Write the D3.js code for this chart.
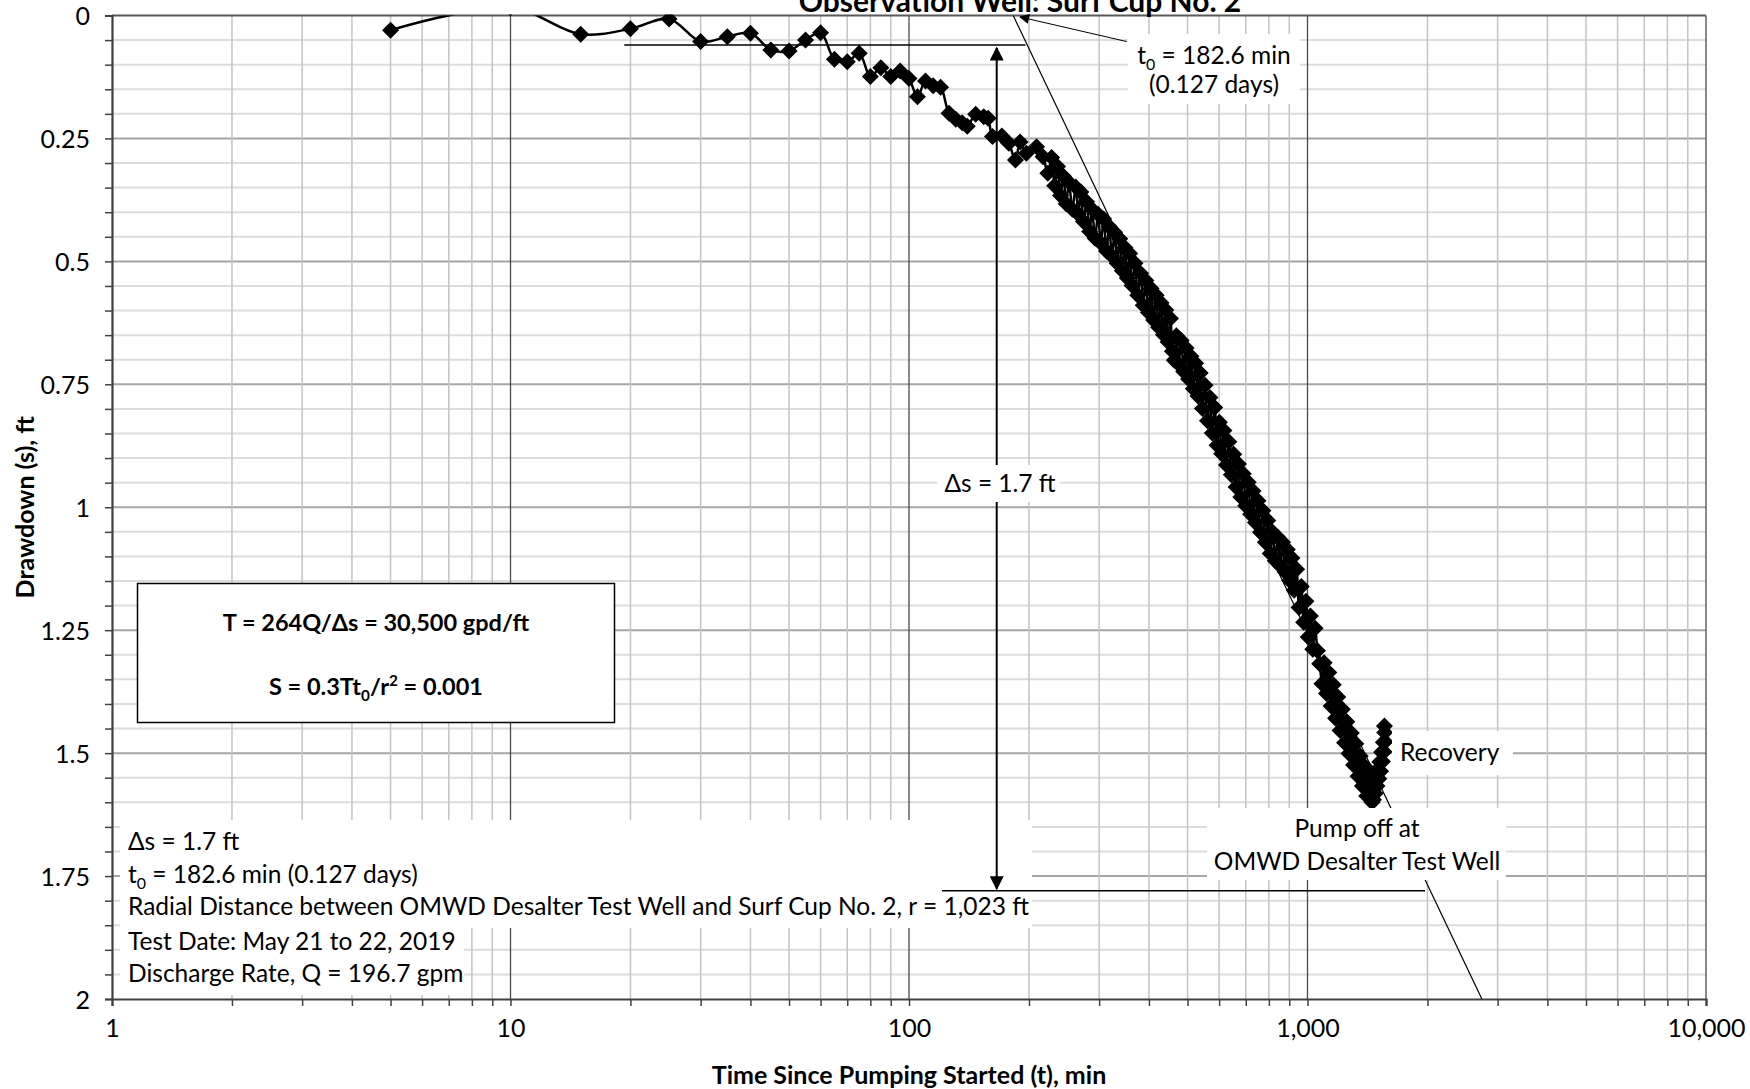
<!DOCTYPE html>
<html>
<head>
<meta charset="utf-8">
<script src="https://cdn.jsdelivr.net/npm/d3@7"></script>
<style>
  html, body { margin: 0; padding: 0; background: #fff; }
  svg { display: block; font-family: Lato, "Liberation Sans", sans-serif; }
</style>
</head>
<body>
<svg id="chart"></svg>
<script>
// observed drawdown, Surf Cup No. 2 (time since pumping started, min / drawdown, ft)
const timeMin = [
  5, 10, 15, 20, 25, 30, 35, 40, 45, 50, 55, 60, 65, 70, 75, 80, 85, 90, 95, 100,
  105, 110, 115, 120, 126, 131, 136, 140, 147, 154, 158, 162, 171, 178, 185, 190, 197, 209, 217, 223,
  228, 232, 236, 240, 244, 248, 252, 257, 262, 266, 270, 274, 279, 284, 288, 293, 298, 303, 308, 313,
  318, 323, 328, 333, 338, 343, 348, 353, 358, 363, 369, 375, 381, 387, 393, 399, 405, 411, 417, 423,
  429, 435, 441, 447, 453, 458, 463, 469, 475, 482, 489, 496, 503, 510, 517, 524, 531, 538, 545, 553,
  561, 569, 577, 585, 593, 601, 609, 617, 626, 635, 644, 653, 662, 671, 680, 690, 700, 710, 720, 730,
  740, 751, 762, 773, 784, 795, 806, 818, 830, 842, 854, 866, 878, 890, 902, 914, 926, 939, 952, 965,
  978, 991, 1004, 1017, 1031, 1045, 1059, 1073, 1087, 1101, 1116, 1131, 1146, 1161, 1176, 1191, 1207, 1223, 1239, 1255,
  1271, 1288, 1305, 1322, 1339, 1356, 1373, 1390, 1408, 1426, 1444,
  1452, 1458, 1464, 1470, 1478, 1486, 1494, 1502, 1510, 1518, 1526, 1534, 1542, 1550, 1556, 1562, 1566, 1560
];
const drawdownFt = [
  0.03, -0.016, 0.038, 0.027, 0.007, 0.053, 0.043, 0.036, 0.070, 0.072, 0.050, 0.035, 0.089, 0.094, 0.077, 0.124, 0.106, 0.124, 0.113, 0.128,
  0.165, 0.133, 0.143, 0.146, 0.199, 0.211, 0.218, 0.225, 0.201, 0.206, 0.209, 0.246, 0.245, 0.260, 0.294, 0.257, 0.280, 0.267, 0.287, 0.321,
  0.289, 0.346, 0.307, 0.366, 0.327, 0.383, 0.339, 0.394, 0.349, 0.404, 0.359, 0.419, 0.379, 0.439, 0.394, 0.453, 0.404, 0.463, 0.414, 0.479,
  0.429, 0.489, 0.441, 0.504, 0.454, 0.519, 0.472, 0.534, 0.484, 0.549, 0.504, 0.569, 0.524, 0.589, 0.539, 0.604, 0.555, 0.619, 0.569, 0.634,
  0.584, 0.649, 0.599, 0.664, 0.616, 0.683, 0.701, 0.651, 0.709, 0.661, 0.724, 0.676, 0.739, 0.693, 0.759, 0.707, 0.774, 0.727, 0.799, 0.752,
  0.824, 0.777, 0.849, 0.797, 0.874, 0.827, 0.891, 0.844, 0.914, 0.867, 0.934, 0.892, 0.959, 0.912, 0.979, 0.932, 0.997, 0.949, 1.014, 0.967,
  1.031, 0.987, 1.051, 1.007, 1.071, 1.027, 1.094, 1.051, 1.109, 1.061, 1.119, 1.071, 1.131, 1.086, 1.149, 1.103, 1.169, 1.126, 1.204, 1.161,
  1.234, 1.191, 1.264, 1.221, 1.289, 1.246, 1.292, 1.318, 1.359, 1.316, 1.379, 1.336, 1.404, 1.361, 1.429, 1.386, 1.454, 1.411, 1.479, 1.436,
  1.501, 1.459, 1.524, 1.481, 1.547, 1.506, 1.567, 1.526, 1.587, 1.546, 1.595,
  1.600, 1.578, 1.595, 1.563, 1.582, 1.548, 1.567, 1.533, 1.552, 1.518, 1.537, 1.498, 1.517, 1.478, 1.497, 1.458, 1.477, 1.445
];

// straight-line fit (Cooper-Jacob), 1.7 ft per log cycle through t0
const fitTime = [182.6, 2739];
const fitDrawdown = [0, 2];

// delta-s construction lines
const topLineTime = [19.3, 196];
const topLineDrawdown = 0.06;
const bottomLineTime = [121, 1972];
const bottomLineDrawdown = 1.78;
const deltaArrowTime = 166;
const t0ArrowTime = [352, 190];
const t0ArrowDrawdown = [0.053, 0.003];

const xMajorTicks = [1, 10, 100, 1000, 10000];
const xTickLabels = ['1', '10', '100', '1,000', '10,000'];
const yMajorTicks = [0, 0.25, 0.5, 0.75, 1, 1.25, 1.5, 1.75, 2];
const yTickLabels = ['0', '0.25', '0.5', '0.75', '1', '1.25', '1.5', '1.75', '2'];

const width = 1750, height = 1089;
const plot = { left: 112, right: 1706, top: 15.5, bottom: 999 };
const textSize = 24.5;

const svg = d3.select('#chart')
  .attr('width', width)
  .attr('height', height)
  .attr('viewBox', `0 0 ${width} ${height}`);

const x = d3.scaleLog().domain([1, 10000]).range([plot.left, plot.right]);
const y = d3.scaleLinear().domain([0, 2]).range([plot.top, plot.bottom]);

const defs = svg.append('defs');
defs.append('clipPath').attr('id', 'plotClip')
  .append('rect')
  .attr('x', plot.left).attr('y', plot.top)
  .attr('width', plot.right - plot.left).attr('height', plot.bottom - plot.top);
defs.append('clipPath').attr('id', 'markerClip')
  .append('rect')
  .attr('x', plot.left - 10).attr('y', plot.top - 1)
  .attr('width', plot.right - plot.left + 20).attr('height', plot.bottom - plot.top + 1);

defs.append('marker')
  .attr('id', 'arrowHead')
  .attr('viewBox', '0 0 10 10')
  .attr('refX', 9).attr('refY', 5)
  .attr('markerWidth', 7).attr('markerHeight', 7)
  .attr('markerUnits', 'strokeWidth')
  .attr('orient', 'auto-start-reverse')
  .append('path').attr('d', 'M0,0 L10,5 L0,10 Z').attr('fill', '#000');
defs.append('marker')
  .attr('id', 'smallHead')
  .attr('viewBox', '0 0 10 10')
  .attr('refX', 9).attr('refY', 5)
  .attr('markerWidth', 14).attr('markerHeight', 10)
  .attr('markerUnits', 'strokeWidth')
  .attr('orient', 'auto')
  .append('path').attr('d', 'M0,0 L10,5 L0,10 Z').attr('fill', '#000');

// gridlines
const minorX = [];
[1, 10, 100, 1000].forEach(d => { for (let k = 2; k <= 9; k++) minorX.push(d * k); });
const minorY = d3.range(0, 41).map(i => i * 0.05).filter(v => Math.abs(v / 0.25 - Math.round(v / 0.25)) > 1e-6);

const grid = svg.append('g');
grid.selectAll('.hminor').data(minorY).enter().append('line')
  .attr('x1', plot.left).attr('x2', plot.right)
  .attr('y1', d => y(d)).attr('y2', d => y(d))
  .attr('stroke', '#dcdcdc').attr('stroke-width', 2);
grid.selectAll('.hmajor').data(yMajorTicks.slice(1, -1)).enter().append('line')
  .attr('x1', plot.left).attr('x2', plot.right)
  .attr('y1', d => y(d)).attr('y2', d => y(d))
  .attr('stroke', '#a6a6a6').attr('stroke-width', 2);
grid.selectAll('.vminor').data(minorX).enter().append('line')
  .attr('x1', d => x(d)).attr('x2', d => x(d))
  .attr('y1', plot.top).attr('y2', plot.bottom)
  .attr('stroke', '#c4c4c4').attr('stroke-width', 1.5);
grid.selectAll('.vmajor').data(xMajorTicks.slice(1)).enter().append('line')
  .attr('x1', d => x(d)).attr('x2', d => x(d))
  .attr('y1', plot.top).attr('y2', plot.bottom)
  .attr('stroke', '#4a4a4a').attr('stroke-width', 1.3);
grid.append('line')
  .attr('x1', plot.left).attr('x2', plot.right)
  .attr('y1', y(0)).attr('y2', y(0))
  .attr('stroke', '#595959').attr('stroke-width', 2);

// axes
const yAxis = d3.axisLeft(y)
  .tickValues(d3.range(0, 41).map(i => i * 0.05))
  .tickSize(7)
  .tickFormat(d => {
    const i = yMajorTicks.findIndex(v => Math.abs(v - d) < 1e-6);
    return i >= 0 ? yTickLabels[i] : '';
  });
const gy = svg.append('g').attr('transform', `translate(${plot.left},0)`).call(yAxis);

const xAxis = d3.axisBottom(x)
  .tickValues(xMajorTicks.concat(minorX))
  .tickSize(7)
  .tickFormat(d => {
    const i = xMajorTicks.indexOf(d);
    return i >= 0 ? xTickLabels[i] : '';
  });
const gx = svg.append('g').attr('transform', `translate(0,${plot.bottom})`).call(xAxis);

[gx, gy].forEach(g => {
  g.select('.domain').attr('stroke', '#404040').attr('stroke-width', 2.2);
  g.selectAll('.tick line').attr('stroke', '#404040').attr('stroke-width', 1.5);
  g.selectAll('.tick text')
    .attr('fill', '#000')
    .style('font-family', 'Lato, "Liberation Sans", sans-serif')
    .style('font-size', '25px');
});
gy.selectAll('.tick text').attr('x', -22).attr('dy', '0.36em');
gx.selectAll('.tick text').attr('y', 20);

// info text block (background boxes sit behind the construction lines)
const info = svg.append('g');
info.append('rect').attr('x', 120).attr('y', 820).attr('width', 912).attr('height', 108).attr('fill', '#fff');
info.append('rect').attr('x', 120).attr('y', 928).attr('width', 344).attr('height', 67).attr('fill', '#fff');

function richText(g, px, py, parts, opts = {}) {
  const size = opts.size || textSize;
  const t = g.append('text')
    .attr('x', px).attr('y', py)
    .attr('text-anchor', opts.anchor || 'start')
    .attr('font-size', size)
    .attr('font-weight', opts.weight || 'normal')
    .attr('fill', '#000');
  let shift = 0;
  parts.forEach(p => {
    const want = p.sub ? 6 : p.sup ? -9 : 0;
    const s = t.append('tspan').text(p.t).attr('dy', want - shift);
    if (p.sub || p.sup) s.attr('font-size', size * 0.65);
    shift = want;
  });
  return t;
}

const infoLines = [
  { y: 850, parts: [{ t: 'Δs = 1.7 ft' }] },
  { y: 883, parts: [{ t: 't' }, { t: '0', sub: true }, { t: ' = 182.6 min (0.127 days)' }] },
  { y: 915, parts: [{ t: 'Radial Distance between OMWD Desalter Test Well and Surf Cup No. 2, r = 1,023 ft' }] },
  { y: 950, parts: [{ t: 'Test Date: May 21 to 22, 2019' }] },
  { y: 982, parts: [{ t: 'Discharge Rate, Q = 196.7 gpm' }] }
];
infoLines.forEach(l => richText(info, 128, l.y, l.parts));

// fitted straight line
svg.append('line')
  .attr('clip-path', 'url(#plotClip)')
  .attr('x1', x(fitTime[0])).attr('y1', y(fitDrawdown[0]))
  .attr('x2', x(fitTime[1])).attr('y2', y(fitDrawdown[1]))
  .attr('stroke', '#000').attr('stroke-width', 1.2);

// delta-s construction
svg.append('line')
  .attr('x1', x(topLineTime[0])).attr('x2', x(topLineTime[1]))
  .attr('y1', y(topLineDrawdown)).attr('y2', y(topLineDrawdown))
  .attr('stroke', '#000').attr('stroke-width', 1.5);
svg.append('line')
  .attr('x1', x(bottomLineTime[0])).attr('x2', x(bottomLineTime[1]))
  .attr('y1', y(bottomLineDrawdown)).attr('y2', y(bottomLineDrawdown))
  .attr('stroke', '#000').attr('stroke-width', 1.5);
svg.append('line')
  .attr('x1', x(deltaArrowTime)).attr('x2', x(deltaArrowTime))
  .attr('y1', y(topLineDrawdown) + 3).attr('y2', y(bottomLineDrawdown) - 2)
  .attr('stroke', '#000').attr('stroke-width', 2)
  .attr('marker-start', 'url(#arrowHead)')
  .attr('marker-end', 'url(#arrowHead)');
svg.append('line')
  .attr('x1', x(t0ArrowTime[0])).attr('y1', y(t0ArrowDrawdown[0]))
  .attr('x2', x(t0ArrowTime[1])).attr('y2', y(t0ArrowDrawdown[1]))
  .attr('stroke', '#000').attr('stroke-width', 1)
  .attr('marker-end', 'url(#smallHead)');

// observed series
const points = timeMin.map((t, i) => ({ t, s: drawdownFt[i] }));
const line = d3.line()
  .x(d => x(d.t))
  .y(d => y(d.s))
  .curve(d3.curveCatmullRom.alpha(0.5));
svg.append('path')
  .datum(points)
  .attr('clip-path', 'url(#plotClip)')
  .attr('d', line)
  .attr('fill', 'none')
  .attr('stroke', '#000')
  .attr('stroke-width', 2.5);
const r = 8.5;
svg.append('g').attr('clip-path', 'url(#markerClip)')
  .selectAll('path').data(points).enter().append('path')
  .attr('d', `M0,${-r}L${r},0L0,${r}L${-r},0Z`)
  .attr('transform', d => `translate(${x(d.t)},${y(d.s)})`)
  .attr('fill', '#000');

// T / S results box
const box = svg.append('g');
box.append('rect').attr('x', 137.5).attr('y', 583.5).attr('width', 477).attr('height', 139)
  .attr('fill', '#fff').attr('stroke', '#000').attr('stroke-width', 1.5);
richText(box, 376, 631, [{ t: 'T = 264Q/Δs = 30,500 gpd/ft' }], { anchor: 'middle', weight: 'bold', size: 23.5 });
richText(box, 376, 695, [{ t: 'S = 0.3Tt' }, { t: '0', sub: true }, { t: '/r' }, { t: '2', sup: true }, { t: ' = 0.001' }],
  { anchor: 'middle', weight: 'bold', size: 23.5 });

// callout labels
const labels = svg.append('g');
labels.append('rect').attr('x', 1128).attr('y', 34).attr('width', 172).attr('height', 70).attr('fill', '#fff');
richText(labels, 1214, 64, [{ t: 't' }, { t: '0', sub: true }, { t: ' =  182.6 min' }], { anchor: 'middle' });
richText(labels, 1214, 93, [{ t: '(0.127 days)' }], { anchor: 'middle' });

labels.append('rect').attr('x', 937).attr('y', 465).attr('width', 123).attr('height', 37).attr('fill', '#fff');
richText(labels, 1000, 492, [{ t: 'Δs = 1.7 ft' }], { anchor: 'middle' });

labels.append('rect').attr('x', 1392).attr('y', 731).attr('width', 121).attr('height', 44).attr('fill', '#fff');
richText(labels, 1400, 761, [{ t: 'Recovery' }]);

labels.append('rect').attr('x', 1207).attr('y', 808).attr('width', 299).attr('height', 72).attr('fill', '#fff');
richText(labels, 1357, 837, [{ t: 'Pump off at' }], { anchor: 'middle' });
richText(labels, 1357, 870, [{ t: 'OMWD Desalter Test Well' }], { anchor: 'middle' });

// titles
svg.append('text')
  .attr('x', 1020).attr('y', 12)
  .attr('text-anchor', 'middle')
  .attr('font-size', 30).attr('font-weight', 'bold')
  .text('Observation Well: Surf Cup No. 2');
svg.append('text')
  .attr('x', (plot.left + plot.right) / 2).attr('y', 1084)
  .attr('text-anchor', 'middle')
  .attr('font-size', 25).attr('font-weight', 'bold')
  .text('Time Since Pumping Started (t), min');
svg.append('text')
  .attr('transform', `translate(34,${(plot.top + plot.bottom) / 2}) rotate(-90)`)
  .attr('text-anchor', 'middle')
  .attr('font-size', 25).attr('font-weight', 'bold')
  .text('Drawdown (s), ft');
</script>
</body>
</html>
